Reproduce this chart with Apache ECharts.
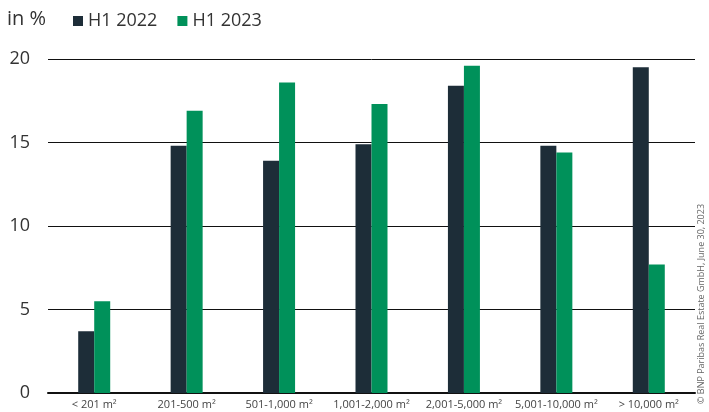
<!DOCTYPE html>
<html><head><meta charset="utf-8">
<script src="https://cdn.jsdelivr.net/npm/echarts@6/dist/echarts.min.js"></script>
<style>html,body{margin:0;padding:0;background:#fff}#c{width:709px;height:412px}</style>
</head><body><div id="c"></div>
<script>
const categories = ['< 201 m²','201-500 m²','501-1,000 m²','1,001-2,000 m²','2,001-5,000 m²','5,001-10,000 m²','> 10,000 m²'];
const h12022 = [3.7, 14.8, 13.9, 14.9, 18.4, 14.8, 19.5];
const h12023 = [5.5, 16.9, 18.6, 17.3, 19.6, 14.4, 7.7];
const yTicks = [0, 5, 10, 15, 20];

const chart = echarts.init(document.getElementById('c'));
chart.setOption({
  animation: false,
  textStyle: {fontFamily: 'Open Sans'},
  grid: {left: 48, right: 14, top: 59, bottom: 19},
  legend: {
    left: 68, top: 7, itemWidth: 10, itemHeight: 10, itemGap: 20,
    icon: 'rect',
    textStyle: {fontSize: 18, color: '#333', fontFamily: 'Open Sans'},
    data: ['H1 2022', 'H1 2023']
  },
  graphic: [
    {type: 'text', left: 7, top: 9, style: {text: 'in %', fontSize: 20, fill: '#333', fontFamily: 'Open Sans'}},
    {type: 'text', x: 697, y: 404, rotation: Math.PI / 2,
     style: {text: '© BNP Paribas Real Estate GmbH, June 30, 2023', fontSize: 9, fill: '#666', fontFamily: 'Open Sans'}}
  ],
  xAxis: {
    type: 'category', data: categories,
    axisLine: {lineStyle: {color: '#111', width: 2}},
    axisTick: {show: false},
    axisLabel: {fontSize: 11, color: '#444', margin: 6, interval: 0}
  },
  yAxis: {
    type: 'value', min: 0, max: 20, interval: 5,
    axisLine: {show: false}, axisTick: {show: false},
    axisLabel: {fontSize: 18, color: '#333', margin: 18,
      formatter: v => yTicks.includes(v) ? String(v) : ''},
    splitLine: {lineStyle: {color: '#111', width: 1}}
  },
  series: [
    {name: 'H1 2022', type: 'bar', data: h12022, barWidth: 16, barGap: '0%', itemStyle: {color: '#1d2d38'}},
    {name: 'H1 2023', type: 'bar', data: h12023, barWidth: 16, barGap: '0%', itemStyle: {color: '#00915a'}}
  ]
});
</script></body></html>
